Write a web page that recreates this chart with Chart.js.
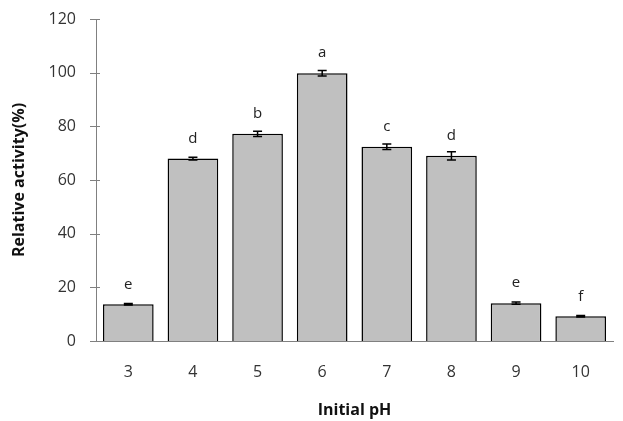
<!DOCTYPE html>
<html><head><meta charset="utf-8">
<script src="https://cdn.jsdelivr.net/npm/chart.js@4/dist/chart.umd.min.js"></script>
<style>html,body{margin:0;padding:0;background:#fff}#wrap{width:623px;height:421px}</style>
</head><body><div id="wrap"><canvas id="c" width="623" height="421"></canvas></div>
<script>
const categories = ['3','4','5','6','7','8','9','10'];
const activity = [13.7, 68, 77.2, 99.8, 72.4, 69.0, 14.1, 9.2];
const errors = [0.3, 0.5, 1.0, 1.0, 1.0, 1.5, 0.4, 0.3];
const letters = ['e','d','b','a','c','d','e','f'];
const yTicks = [0, 20, 40, 60, 80, 100, 120];

const FONT = "'Open Sans', 'Liberation Sans', sans-serif";

const extras = {
  id: 'extras',
  afterDatasetsDraw(chart) {
    const ctx = chart.ctx;
    const meta = chart.getDatasetMeta(0);
    const y = chart.scales.y;
    ctx.save();
    ctx.strokeStyle = '#000';
    ctx.lineWidth = 1.5;
    meta.data.forEach((bar, i) => {
      const x = bar.x;
      const yt = y.getPixelForValue(activity[i] + errors[i]);
      const yb = y.getPixelForValue(activity[i] - errors[i]);
      ctx.beginPath();
      ctx.moveTo(x, yt); ctx.lineTo(x, yb);
      ctx.moveTo(x - 4.5, yt); ctx.lineTo(x + 4.5, yt);
      ctx.moveTo(x - 4.5, yb); ctx.lineTo(x + 4.5, yb);
      ctx.stroke();
      ctx.fillStyle = '#222';
      ctx.font = "15px " + FONT;
      ctx.textAlign = 'center';
      ctx.textBaseline = 'middle';
      ctx.fillText(letters[i], x, y.getPixelForValue(activity[i]) - 20);
    });
    ctx.strokeStyle = '#808080';
    ctx.lineWidth = 1;
    const x0 = chart.scales.x.left;
    yTicks.forEach(v => {
      const py = Math.round(y.getPixelForValue(v)) + 0.5;
      ctx.beginPath();
      ctx.moveTo(x0 - 6, py); ctx.lineTo(x0 + 4, py);
      ctx.stroke();
    });
    ctx.restore();
  }
};

new Chart(document.getElementById('c'), {
  type: 'bar',
  data: {
    labels: categories,
    datasets: [{
      data: activity,
      backgroundColor: '#c0c0c0',
      borderColor: '#000',
      borderWidth: 1.5,
      categoryPercentage: 0.8,
      barPercentage: 0.98
    }]
  },
  options: {
    responsive: false,
    animation: false,
    events: [],
    layout: { padding: { left: 0, right: 10, top: 19, bottom: 0 } },
    plugins: { legend: { display: false }, tooltip: { enabled: false } },
    scales: {
      x: {
        grid: { display: false, drawTicks: false },
        border: { color: '#808080', width: 1 },
        ticks: { color: '#333', font: { family: FONT, size: 16 }, padding: 22 },
        title: { display: true, text: 'Initial pH', color: '#111', font: { family: FONT, size: 16, weight: 'bold' }, padding: { top: 0, bottom: 1 } },
        afterFit(s) { s.height = 80; s.paddingLeft = 0; s.paddingRight = 0; }
      },
      y: {
        min: 0, max: 120,
        afterBuildTicks(s) { s.ticks = yTicks.map(v => ({ value: v })); },
        grid: { display: false, drawTicks: false },
        border: { color: '#808080', width: 1 },
        ticks: { color: '#333', font: { family: FONT, size: 16 }, padding: 20 },
        title: { display: true, text: 'Relative activity(%)', color: '#111', font: { family: FONT, size: 16, weight: 'bold' }, padding: { top: 10, bottom: 0 } },
        afterFit(s) { s.width = 96; s.paddingTop = 0; s.paddingBottom = 0; }
      }
    }
  },
  plugins: [extras]
});
</script></body></html>
